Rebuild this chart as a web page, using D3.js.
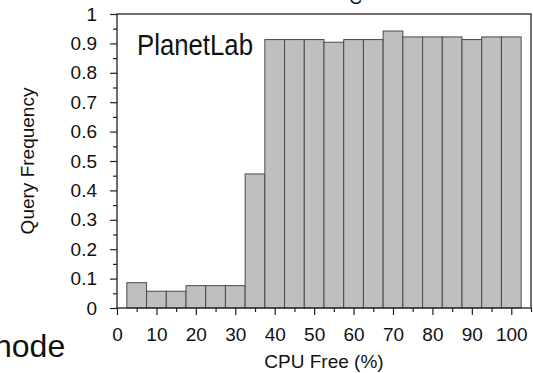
<!DOCTYPE html>
<html>
<head>
<meta charset="utf-8">
<script src="https://cdn.jsdelivr.net/npm/d3@7"></script>
<style>
  body { margin: 0; background: #fff; }
  svg { display: block; font-family: "Liberation Sans", Arial, Helvetica, sans-serif; }
  .axis line { stroke: #222; stroke-width: 1.2; }
</style>
</head>
<body>
<svg id="chart" width="533" height="373"></svg>
<script>
// bin centres (CPU free %), bin width 5
const binCenters = [5, 10, 15, 20, 25, 30, 35, 40, 45, 50, 55, 60, 65, 70, 75, 80, 85, 90, 95, 100];
const queryFreq = [0.086, 0.057, 0.057, 0.076, 0.076, 0.076, 0.456, 0.913, 0.913, 0.913,
                   0.904, 0.913, 0.913, 0.942, 0.922, 0.922, 0.922, 0.913, 0.922, 0.922];
const binWidth = 5;
const xTicks = [0, 10, 20, 30, 40, 50, 60, 70, 80, 90, 100];
const yTicks = [0, 0.1, 0.2, 0.3, 0.4, 0.5, 0.6, 0.7, 0.8, 0.9, 1];

const svg = d3.select('#chart');
const plot = { left: 117, right: 531, top: 14, bottom: 308 };
const font = '"Liberation Sans", Arial, Helvetica, sans-serif';

const x = d3.scaleLinear().domain([0, 105]).range([plot.left, plot.right]);
const y = d3.scaleLinear().domain([0, 1]).range([plot.bottom, plot.top]);

// bars
svg.selectAll('rect.bar')
    .data(binCenters)
    .enter()
    .append('rect')
    .attr('class', 'bar')
    .attr('x', d => x(d - binWidth / 2))
    .attr('width', d => x(d + binWidth / 2) - x(d - binWidth / 2))
    .attr('y', (d, i) => y(queryFreq[i]))
    .attr('height', (d, i) => y(0) - y(queryFreq[i]))
    .attr('fill', '#bfbfbf')
    .attr('stroke', '#4a4a4a')
    .attr('stroke-width', 1);

// frame
svg.append('rect')
    .attr('x', plot.left).attr('y', plot.top)
    .attr('width', plot.right - plot.left).attr('height', plot.bottom - plot.top)
    .attr('fill', 'none')
    .attr('stroke', '#222')
    .attr('stroke-width', 1.3);

function styleLabels(g) {
    g.select('.domain').remove();
    g.attr('font-family', font).attr('font-size', 19);
    g.selectAll('text').attr('fill', '#111');
}

// y axis: major + minor ticks
const yMinor = yTicks.slice(0, -1).map(v => v + 0.05);
svg.append('g')
    .attr('class', 'axis')
    .attr('transform', 'translate(' + plot.left + ',0)')
    .call(d3.axisLeft(y).tickValues(yMinor).tickSize(4).tickFormat(''))
    .call(g => g.select('.domain').remove());
svg.append('g')
    .attr('class', 'axis')
    .attr('transform', 'translate(' + plot.left + ',0)')
    .call(d3.axisLeft(y).tickValues(yTicks).tickSize(7).tickPadding(13)
        .tickFormat(d => d3.format('~g')(d)))
    .call(styleLabels);

// x axis: major + minor ticks
const xMinor = xTicks.map(v => v + 5);
svg.append('g')
    .attr('class', 'axis')
    .attr('transform', 'translate(0,' + plot.bottom + ')')
    .call(d3.axisBottom(x).tickValues(xMinor).tickSize(4).tickFormat(''))
    .call(g => g.select('.domain').remove());
svg.append('g')
    .attr('class', 'axis')
    .attr('transform', 'translate(0,' + plot.bottom + ')')
    .call(d3.axisBottom(x).tickValues(xTicks).tickSize(7).tickPadding(13))
    .call(styleLabels);

// labels
svg.append('text')
    .attr('x', (plot.left + plot.right) / 2)
    .attr('y', 368)
    .attr('text-anchor', 'middle')
    .attr('font-size', 19)
    .attr('fill', '#111')
    .text('CPU Free (%)');

svg.append('text')
    .attr('transform', 'translate(34,161) rotate(-90)')
    .attr('text-anchor', 'middle')
    .attr('font-size', 19)
    .attr('fill', '#111')
    .text('Query Frequency');

svg.append('text')
    .attr('x', 137)
    .attr('y', 55)
    .attr('font-size', 29)
    .attr('textLength', 116)
    .attr('lengthAdjust', 'spacingAndGlyphs')
    .attr('fill', '#111')
    .text('PlanetLab');

// caption fragments cut by the image edges (as in the source picture)
svg.append('text')
    .attr('x', -6)
    .attr('y', 357)
    .attr('font-size', 32)
    .attr('fill', '#111')
    .text('node');

svg.append('text')
    .attr('x', 349)
    .attr('y', 4)
    .attr('font-size', 18)
    .attr('fill', '#111')
    .text('C');
</script>
</body>
</html>
